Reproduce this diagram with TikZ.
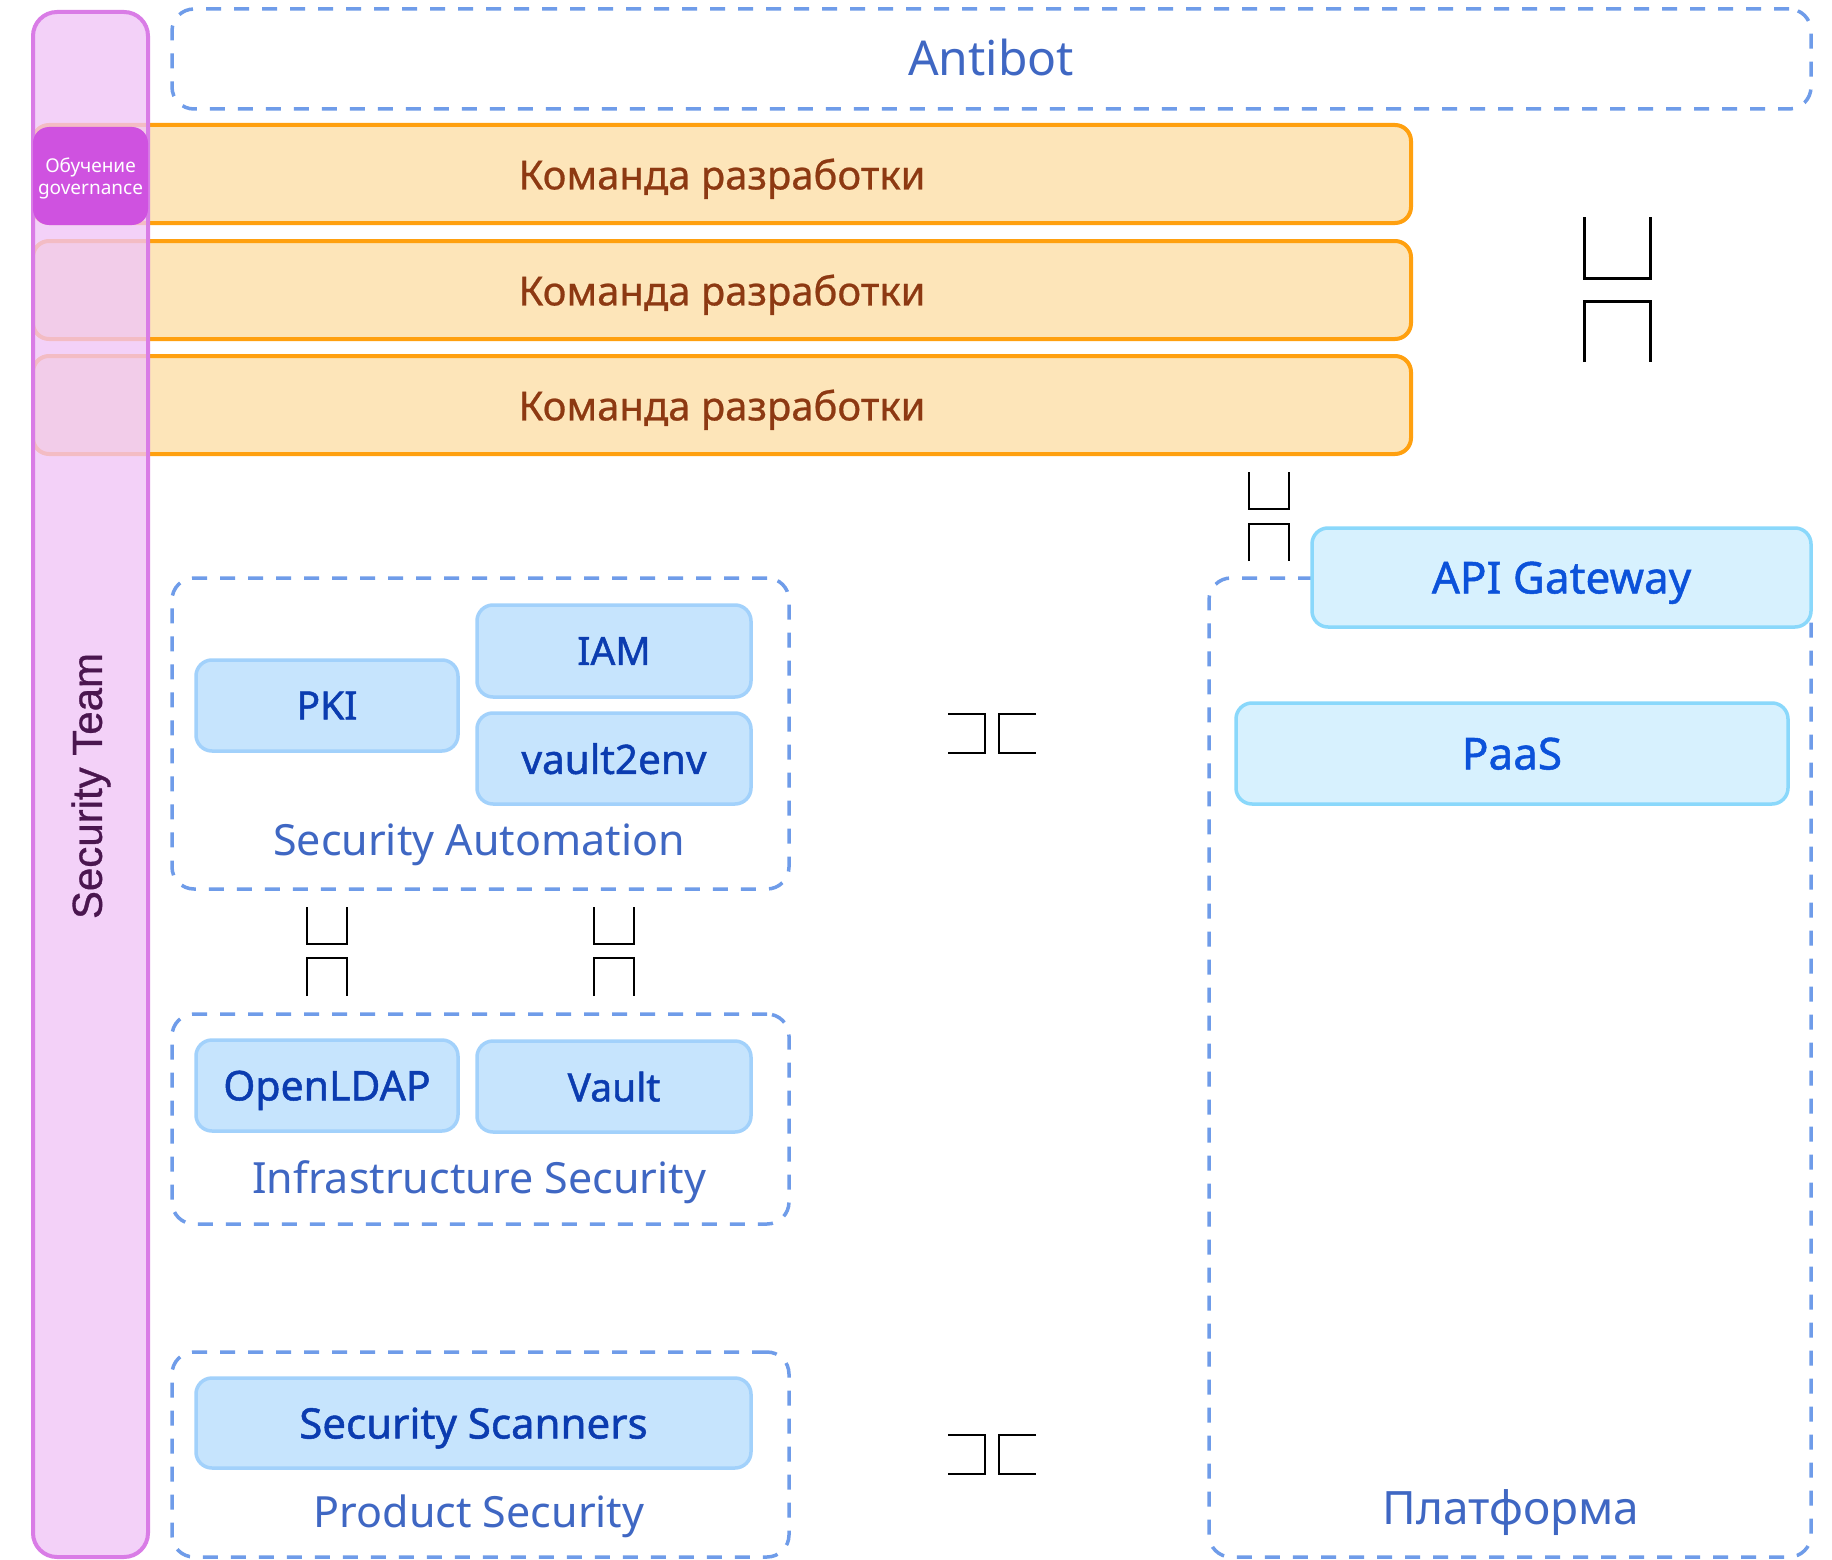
\documentclass[tikz,border=0pt]{standalone}
\usepackage{fontspec}
\setmainfont{Noto Sans}
\newfontfamily\medfont{Noto Sans}[FakeBold=1.2]
\newfontfamily\semifont{Noto Sans}[FakeBold=0.6]
\newfontfamily\arialfont{Liberation Sans}[FakeBold=0.8]
\definecolor{dashblue}{RGB}{111,156,233}
\definecolor{labelblue}{RGB}{63,103,195}
\definecolor{nodefill}{RGB}{198,228,253}
\definecolor{nodedraw}{RGB}{162,209,251}
\definecolor{nodetext}{RGB}{11,60,176}
\definecolor{apifill}{RGB}{215,241,254}
\definecolor{apidraw}{RGB}{138,216,251}
\definecolor{apitext}{RGB}{11,82,218}
\definecolor{barfill}{RGB}{253,229,185}
\definecolor{bardraw}{RGB}{255,160,15}
\definecolor{bartext}{RGB}{141,57,18}
\definecolor{colfill}{RGB}{240,197,247}
\definecolor{coldraw}{RGB}{217,124,230}
\definecolor{govfill}{RGB}{207,82,224}
\definecolor{teamtext}{RGB}{74,22,79}
\tikzset{
  dashbox/.style={draw=dashblue, line width=3.5pt, dash pattern=on 15pt off 13pt, rounded corners=22pt, inner sep=0pt},
  grouplabel/.style={text=labelblue, inner sep=0pt, text depth=0pt, font=\fontsize{43}{50}\selectfont},
  devbar/.style={draw=bardraw, fill=barfill, line width=4pt, rounded corners=16pt, minimum width=1378pt, minimum height=98pt, text depth=0pt, text=bartext, font=\semifont\fontsize{40}{46}\selectfont},
  secnode/.style={draw=nodedraw, fill=nodefill, line width=3.5pt, rounded corners=16pt, text depth=0pt, text=nodetext, font=\medfont\fontsize{39}{44}\selectfont},
  platnode/.style={draw=apidraw, fill=apifill, line width=3.5pt, rounded corners=16pt, text depth=0pt, text=apitext, font=\medfont\fontsize{44}{50}\selectfont},
  linksym/.style={draw=black, line width=2.2pt},
  bigsym/.style={draw=black, line width=3pt}
}
\begin{document}
\begin{tikzpicture}[x=1pt,y=-1pt]
\useasboundingbox (0,0) rectangle (1832,1560);
\fill[white] (0,0) rectangle (1832,1560);

% Antibot
\node[dashbox, minimum width=1639pt, minimum height=100pt] (antibot) at (991.5,59) {};
\node[grouplabel, font=\fontsize{48}{56}\selectfont] (antibotlbl) at (991,57) {Antibot};

% development teams
\node[devbar] (dev1) at (722,174) {Команда разработки};
\node[devbar] (dev2) at (722,290) {Команда разработки};
\node[devbar] (dev3) at (722,405) {Команда разработки};

% security team column
\node[draw=coldraw, fill=colfill, fill opacity=0.78, line width=4pt, rounded corners=24pt, minimum width=115pt, minimum height=1545pt, inner sep=0pt] (team) at (90.5,784.5) {};
\node[rotate=90, text=teamtext, font=\arialfont\fontsize{42}{48}\selectfont, inner sep=0pt] (teamlbl) at (91,786) {Security Team};
\node[fill=govfill, rounded corners=16pt, minimum width=115pt, minimum height=98pt, inner sep=0pt, align=center, text=white, font=\fontsize{19}{22}\selectfont, text depth=0pt] (gov) at (90.5,176) {Обучение\\governance};

% Security Automation
\node[dashbox, minimum width=617pt, minimum height=311pt] (autobox) at (480.5,733.5) {};
\node[grouplabel] (autolbl) at (479,840) {Security Automation};
\node[secnode, minimum width=262pt, minimum height=91pt] (pki) at (327,705.5) {PKI};
\node[secnode, minimum width=274pt, minimum height=92pt] (iam) at (614,651) {IAM};
\node[secnode, minimum width=274pt, minimum height=91pt, font=\medfont\fontsize{40.5}{46}\selectfont] (v2e) at (614,758.5) {vault2env};

% Infrastructure Security
\node[dashbox, minimum width=617pt, minimum height=210pt] (infrabox) at (480.5,1119) {};
\node[grouplabel] (infralbl) at (479,1177) {Infrastructure Security};
\node[secnode, minimum width=262pt, minimum height=91pt, font=\medfont\fontsize{41}{46}\selectfont] (ldap) at (327,1085.5) {OpenLDAP};
\node[secnode, minimum width=274pt, minimum height=91pt] (vault) at (614,1086.5) {Vault};

% Product Security
\node[dashbox, minimum width=617pt, minimum height=205pt] (prodbox) at (480.5,1454.5) {};
\node[grouplabel] (prodlbl) at (479,1511) {Product Security};
\node[secnode, minimum width=555pt, minimum height=90pt, font=\medfont\fontsize{42}{48}\selectfont] (scan) at (473.5,1423) {Security Scanners};

% Platform
\node[dashbox, minimum width=602pt, minimum height=979pt] (platbox) at (1510,1067.5) {};
\node[grouplabel, font=\fontsize{46}{52}\selectfont] (platlbl) at (1511,1507) {Платформа};
\node[platnode, minimum width=499pt, minimum height=99pt] (api) at (1561.5,577.5) {API Gateway};
\node[platnode, minimum width=552pt, minimum height=101pt] (paas) at (1512,753.5) {PaaS};

% link symbols
\draw[bigsym] (1584,217) -- (1584,278) -- (1650,278) -- (1650,217);
\draw[bigsym] (1584,362) -- (1584,301) -- (1650,301) -- (1650,362);

\draw[linksym] (1249,472) -- (1249,509) -- (1289,509) -- (1289,472);
\draw[linksym] (1249,561) -- (1249,524) -- (1289,524) -- (1289,561);

\draw[linksym] (948,714) -- (985,714) -- (985,753) -- (948,753);
\draw[linksym] (1036,714) -- (999,714) -- (999,753) -- (1036,753);

\draw[linksym] (948,1435) -- (985,1435) -- (985,1474) -- (948,1474);
\draw[linksym] (1036,1435) -- (999,1435) -- (999,1474) -- (1036,1474);

\draw[linksym] (307,907) -- (307,944) -- (347,944) -- (347,907);
\draw[linksym] (307,996) -- (307,958) -- (347,958) -- (347,996);

\draw[linksym] (594,907) -- (594,944) -- (634,944) -- (634,907);
\draw[linksym] (594,996) -- (594,958) -- (634,958) -- (634,996);
\end{tikzpicture}
\end{document}
